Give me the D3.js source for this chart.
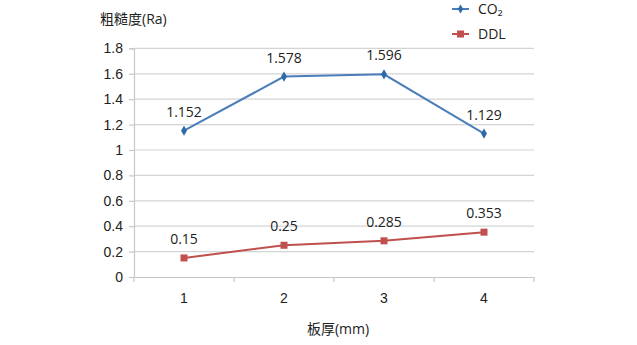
<!DOCTYPE html>
<html>
<head>
<meta charset="utf-8">
<script src="https://cdn.jsdelivr.net/npm/d3@7"></script>
<style>
  html, body { margin: 0; padding: 0; background: #fff; }
  svg { display: block; font-family: "Open Sans", "Noto Sans CJK SC", sans-serif; }
</style>
</head>
<body>
<svg id="chart" width="637" height="345"></svg>
<script>
// Sheet thickness categories (mm)
const categories = ["1", "2", "3", "4"];
// Roughness Ra for each process
const co2Values = [1.152, 1.578, 1.596, 1.129];
const ddlValues = [0.15, 0.25, 0.285, 0.353];
const yTicks = [0, 0.2, 0.4, 0.6, 0.8, 1, 1.2, 1.4, 1.6, 1.8];
const seriesNames = ["CO\u2082", "DDL"];

const svg = d3.select("#chart");
const plotLeft = 134, plotRight = 534, plotTop = 48.4, plotBottom = 277;

const x = d3.scaleBand().domain(categories).range([plotLeft, plotRight]);
const y = d3.scaleLinear().domain([0, 1.8]).range([plotBottom, plotTop]);

const gridColor = "#d4d4d4";
const axisColor = "#c8c8c8";
const textColor = "#222";

// Horizontal gridlines
svg.append("g").selectAll("line").data(yTicks.filter(d => d > 0)).join("line")
  .attr("x1", plotLeft).attr("x2", plotRight)
  .attr("y1", d => y(d)).attr("y2", d => y(d))
  .attr("stroke", gridColor).attr("stroke-width", 1.2);

// Y axis
const yAxis = d3.axisLeft(y).tickValues(yTicks).tickSize(5).tickPadding(6)
  .tickFormat(d => String(+d.toFixed(1)));
const gy = svg.append("g").attr("transform", `translate(${plotLeft},0)`).call(yAxis);
gy.select(".domain").attr("stroke", axisColor).attr("stroke-width", 1.2);
gy.selectAll(".tick line").attr("stroke", axisColor).attr("stroke-width", 1.2);
gy.selectAll(".tick text").attr("font-size", 14).attr("fill", textColor);

// X axis with ticks between categories
const gx = svg.append("g").attr("transform", `translate(0,${plotBottom})`)
  .call(d3.axisBottom(x).tickSize(0).tickPadding(16));
gx.select(".domain").attr("stroke", axisColor).attr("stroke-width", 1.2);
gx.selectAll(".tick text").attr("font-size", 14).attr("fill", textColor);
const bounds = categories.map(c => x(c)).concat([plotRight]);
svg.append("g").selectAll("line").data(bounds).join("line")
  .attr("x1", d => d).attr("x2", d => d)
  .attr("y1", plotBottom).attr("y2", plotBottom + 5)
  .attr("stroke", axisColor).attr("stroke-width", 1.2);

const cx = c => x(c) + x.bandwidth() / 2;
const line = d3.line().x((d, i) => cx(categories[i])).y(d => y(d));

// CO2 series
const blue = "#4a7ebb";
svg.append("path").datum(co2Values).attr("d", line)
  .attr("fill", "none").attr("stroke", blue).attr("stroke-width", 2);
svg.append("g").selectAll("path").data(co2Values).join("path")
  .attr("d", d3.symbol().type(d3.symbolDiamond).size(30))
  .attr("transform", (d, i) => `translate(${cx(categories[i])},${y(d)})`)
  .attr("fill", "#2f6aa8");

// DDL series
const red = "#c0504d";
svg.append("path").datum(ddlValues).attr("d", line)
  .attr("fill", "none").attr("stroke", red).attr("stroke-width", 2);
svg.append("g").selectAll("rect").data(ddlValues).join("rect")
  .attr("x", (d, i) => cx(categories[i]) - 3.5).attr("y", d => y(d) - 3.5)
  .attr("width", 7).attr("height", 7).attr("fill", red);

// Data labels
function labels(vals) {
  svg.append("g").selectAll("text").data(vals).join("text")
    .attr("x", (d, i) => cx(categories[i]))
    .attr("y", d => y(d) - 14)
    .attr("text-anchor", "middle").attr("font-size", 14).attr("fill", textColor)
    .text(d => String(d));
}
labels(co2Values);
labels(ddlValues);

// Axis titles
svg.append("text").attr("x", 100).attr("y", 24).attr("font-size", 14)
  .attr("fill", textColor).text("粗糙度(Ra)");
svg.append("text").attr("x", 338).attr("y", 334).attr("text-anchor", "middle")
  .attr("font-size", 14).attr("fill", textColor).text("板厚(mm)");

// Legend
const legend = svg.append("g");
const legendY = [9, 34];
seriesNames.forEach((name, i) => {
  const col = i === 0 ? blue : red;
  const g = legend.append("g").attr("transform", `translate(452,${legendY[i]})`);
  g.append("line").attr("x1", 0).attr("x2", 17).attr("stroke", col).attr("stroke-width", 2);
  if (i === 0) {
    g.append("path").attr("d", d3.symbol().type(d3.symbolDiamond).size(24))
      .attr("transform", "translate(8.5,0)").attr("fill", "#2f6aa8");
  } else {
    g.append("rect").attr("x", 5).attr("y", -3.5).attr("width", 7).attr("height", 7).attr("fill", col);
  }
  g.append("text").attr("x", 26).attr("y", 5).attr("font-size", 14).attr("fill", textColor).text(name);
});
</script>
</body>
</html>
